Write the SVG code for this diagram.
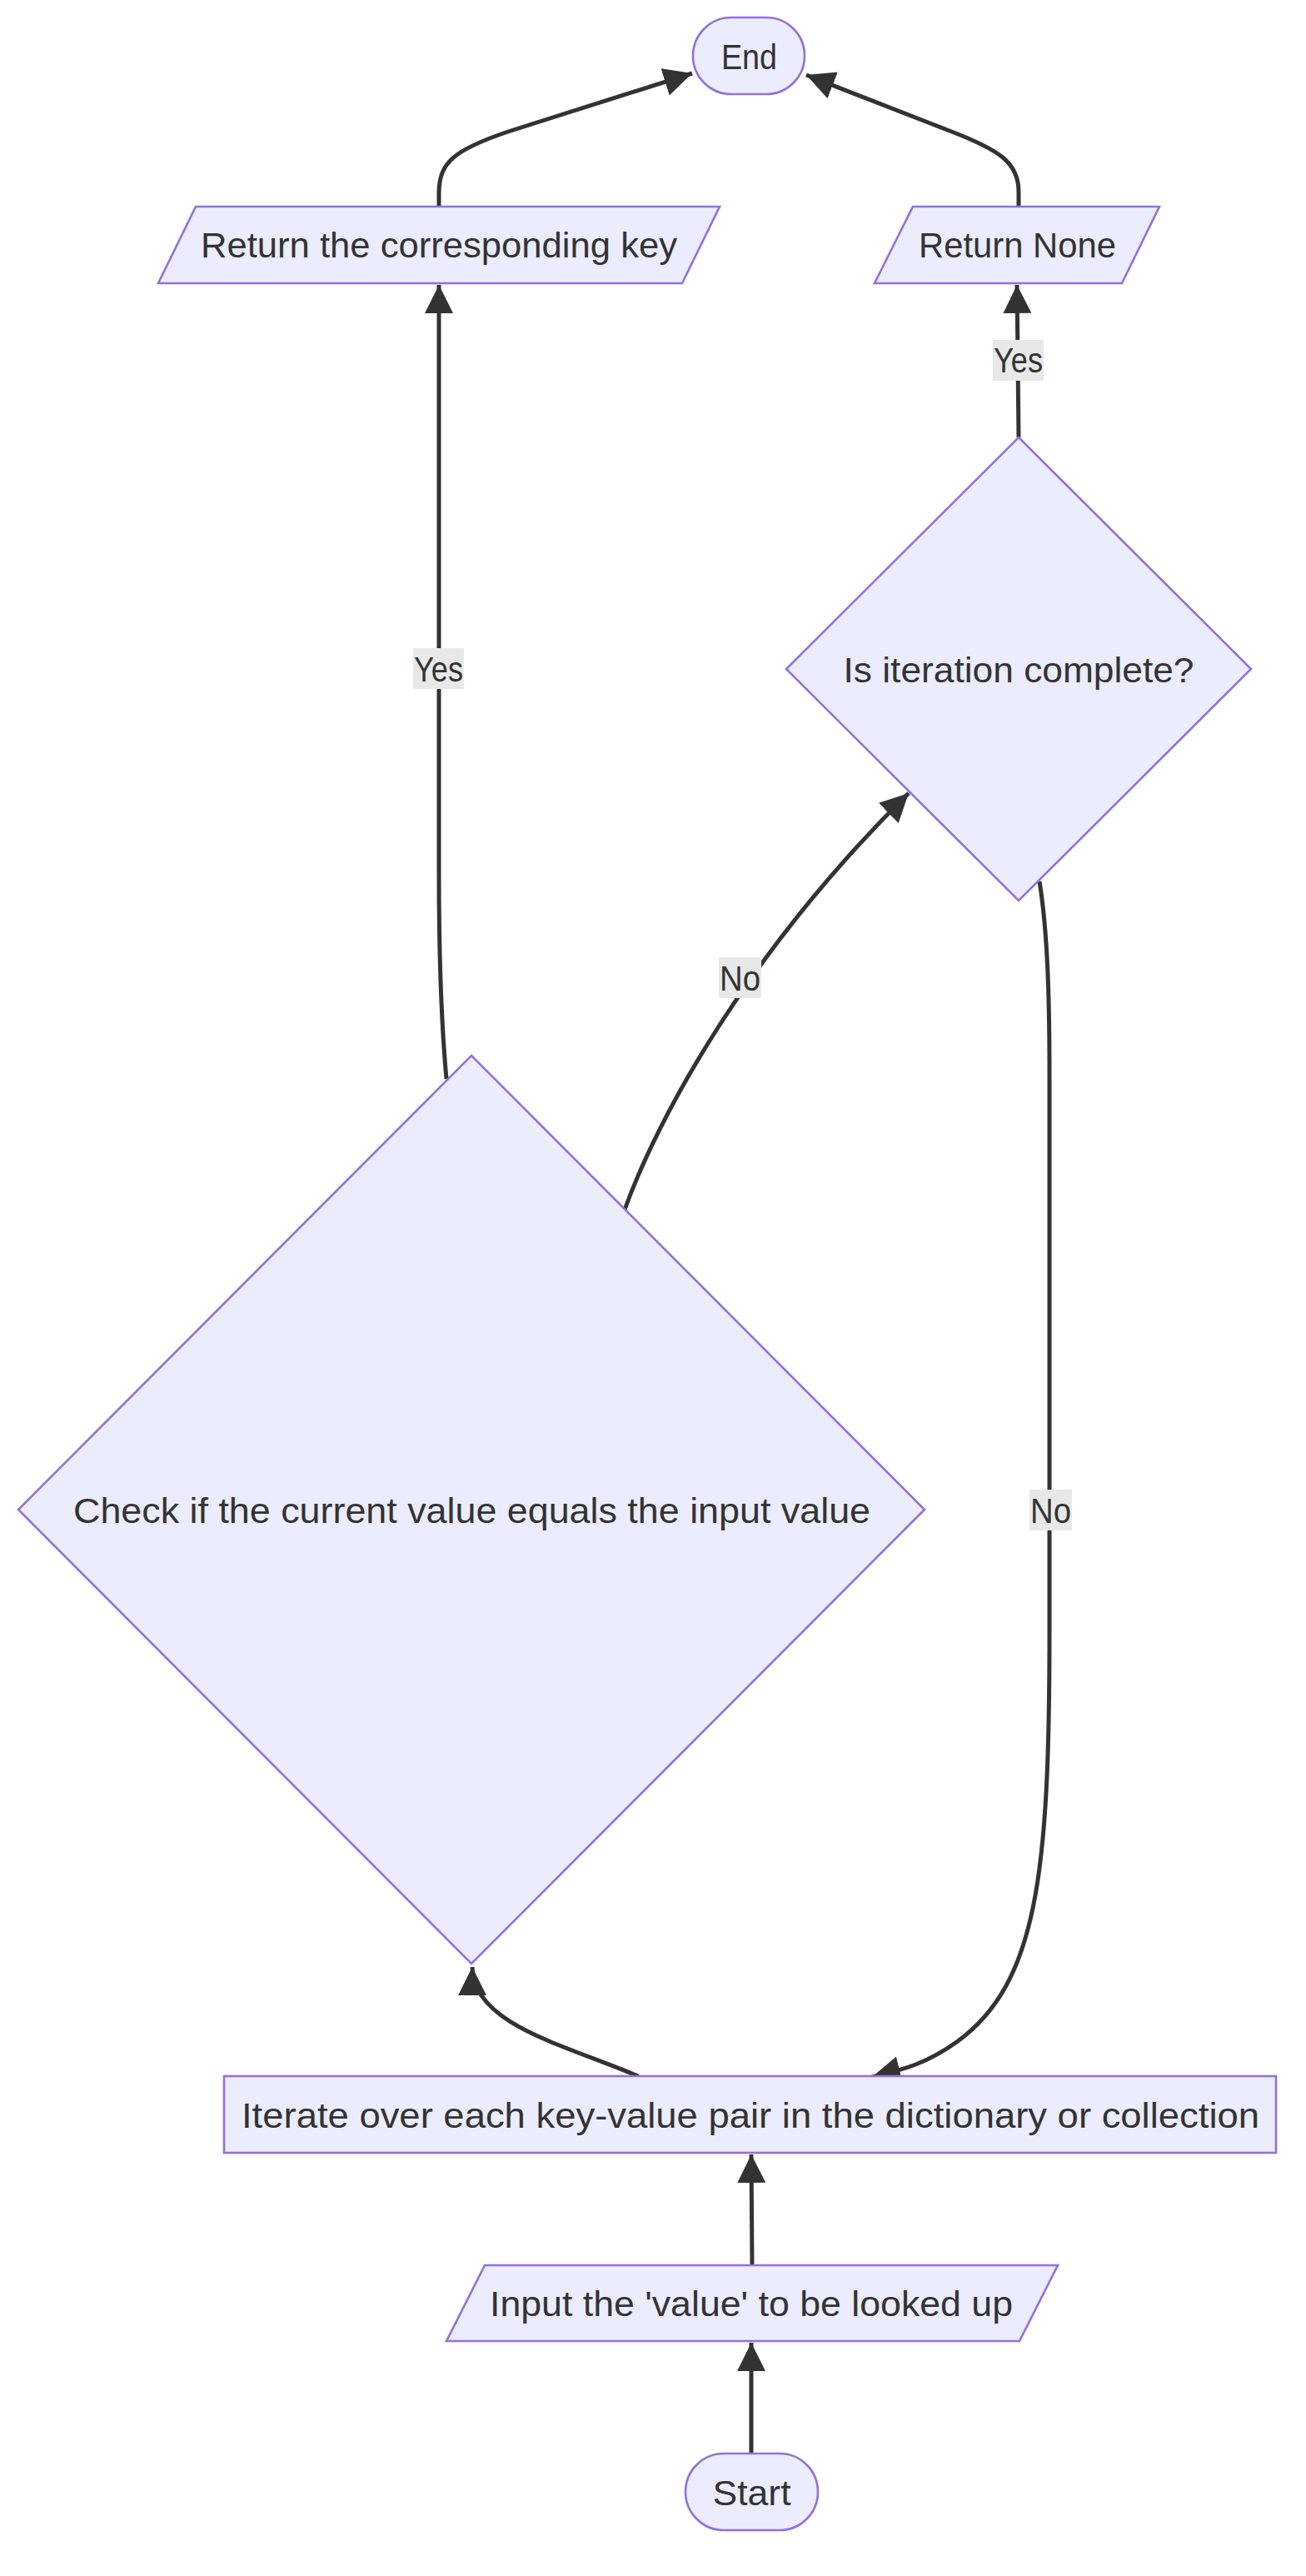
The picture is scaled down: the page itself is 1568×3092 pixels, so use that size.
<svg xmlns="http://www.w3.org/2000/svg" width="1568" height="3092" viewBox="0 0 1568 3092">
<defs>
<style>
.node{fill:#ECECFF;stroke:#9370DB;stroke-width:2.6}
.lbl{font-family:"Liberation Sans",Arial,sans-serif;font-size:43px;fill:#333;text-anchor:middle}
.edge{fill:none;stroke:#333;stroke-width:5}
.elbg{fill:#e8e8e8}
</style>
<marker id="arrow" viewBox="0 0 10 10" refX="10" refY="5" markerUnits="userSpaceOnUse" markerWidth="34" markerHeight="34" orient="auto">
<path d="M0,0 L10,5 L0,10 z" fill="#333"/>
</marker>
</defs>
<rect width="1568" height="3092" fill="#ffffff"/>
<g id="connectors">
<path class="edge" marker-end="url(#arrow)" d="M902,2945 L902,2812"/>
<path class="edge" marker-end="url(#arrow)" d="M903,2719 L902,2586"/>
<path class="edge" marker-end="url(#arrow)" d="M766,2492 C680,2455 567,2430 567,2361"/>
<path class="edge" marker-end="url(#arrow)" d="M1248,1058 C1258,1120 1260,1200 1260,1290 L1260,1960 C1260,2250 1245,2380 1150,2450 C1110,2479 1080,2485 1047,2493"/>
<path class="edge" marker-end="url(#arrow)" d="M536,1295 C530,1230 527,1150 527,1050 L527,342"/>
<path class="edge" marker-end="url(#arrow)" d="M750,1452 C790,1340 900,1140 1091,952"/>
<path class="edge" marker-end="url(#arrow)" d="M1223,525 L1221,342"/>
<path class="edge" marker-end="url(#arrow)" d="M527,248 L527,232 C527,195 545,180 610,158 L831,88"/>
<path class="edge" marker-end="url(#arrow)" d="M1223,248 L1223,230 C1223,195 1200,180 1140,157 L968,90"/>
<g id="edge-labels">
<rect class="elbg" x="1192" y="408" width="61" height="49"/>
<text class="lbl" x="1222.5" y="447" textLength="59" lengthAdjust="spacingAndGlyphs">Yes</text>
<rect class="elbg" x="496" y="778" width="61" height="49"/>
<text class="lbl" x="526.5" y="818" textLength="59" lengthAdjust="spacingAndGlyphs">Yes</text>
<rect class="elbg" x="863" y="1149" width="51" height="49"/>
<text class="lbl" x="888.5" y="1189" textLength="49" lengthAdjust="spacingAndGlyphs">No</text>
<rect class="elbg" x="1236" y="1788" width="51" height="49"/>
<text class="lbl" x="1261.5" y="1828" textLength="49" lengthAdjust="spacingAndGlyphs">No</text>
</g>
</g>
<g id="node-end">
<rect class="node" x="832" y="21" width="134" height="92" rx="46" ry="46"/>
<text class="lbl" x="899.5" y="83" textLength="67" lengthAdjust="spacingAndGlyphs">End</text>
</g>
<g id="node-return-key">
<polygon class="node" points="235,248 864,248 819,340 190,340"/>
<text class="lbl" x="527" y="309" textLength="572" lengthAdjust="spacingAndGlyphs">Return the corresponding key</text>
</g>
<g id="node-return-none">
<polygon class="node" points="1096,248 1392,248 1347,340 1050,340"/>
<text class="lbl" x="1221.5" y="309" textLength="237" lengthAdjust="spacingAndGlyphs">Return None</text>
</g>
<g id="node-iteration-complete">
<polygon class="node" points="1223,525 1502,803 1223,1081 944,803"/>
<text class="lbl" x="1223" y="819" textLength="421" lengthAdjust="spacingAndGlyphs">Is iteration complete?</text>
</g>
<g id="node-check">
<polygon class="node" points="566,1267 1110,1812 566,2357 22,1812"/>
<text class="lbl" x="566.5" y="1828" textLength="957" lengthAdjust="spacingAndGlyphs">Check if the current value equals the input value</text>
</g>
<g id="node-iterate">
<rect class="node" x="269" y="2492" width="1263" height="92"/>
<text class="lbl" x="901" y="2554" textLength="1222" lengthAdjust="spacingAndGlyphs">Iterate over each key-value pair in the dictionary or collection</text>
</g>
<g id="node-input">
<polygon class="node" points="582,2719 1270,2719 1224,2810 536,2810"/>
<text class="lbl" x="902" y="2780" textLength="628" lengthAdjust="spacingAndGlyphs">Input the 'value' to be looked up</text>
</g>
<g id="node-start">
<rect class="node" x="823" y="2945" width="159" height="92" rx="46" ry="46"/>
<text class="lbl" x="902.5" y="3007" textLength="94" lengthAdjust="spacingAndGlyphs">Start</text>
</g>
</svg>
